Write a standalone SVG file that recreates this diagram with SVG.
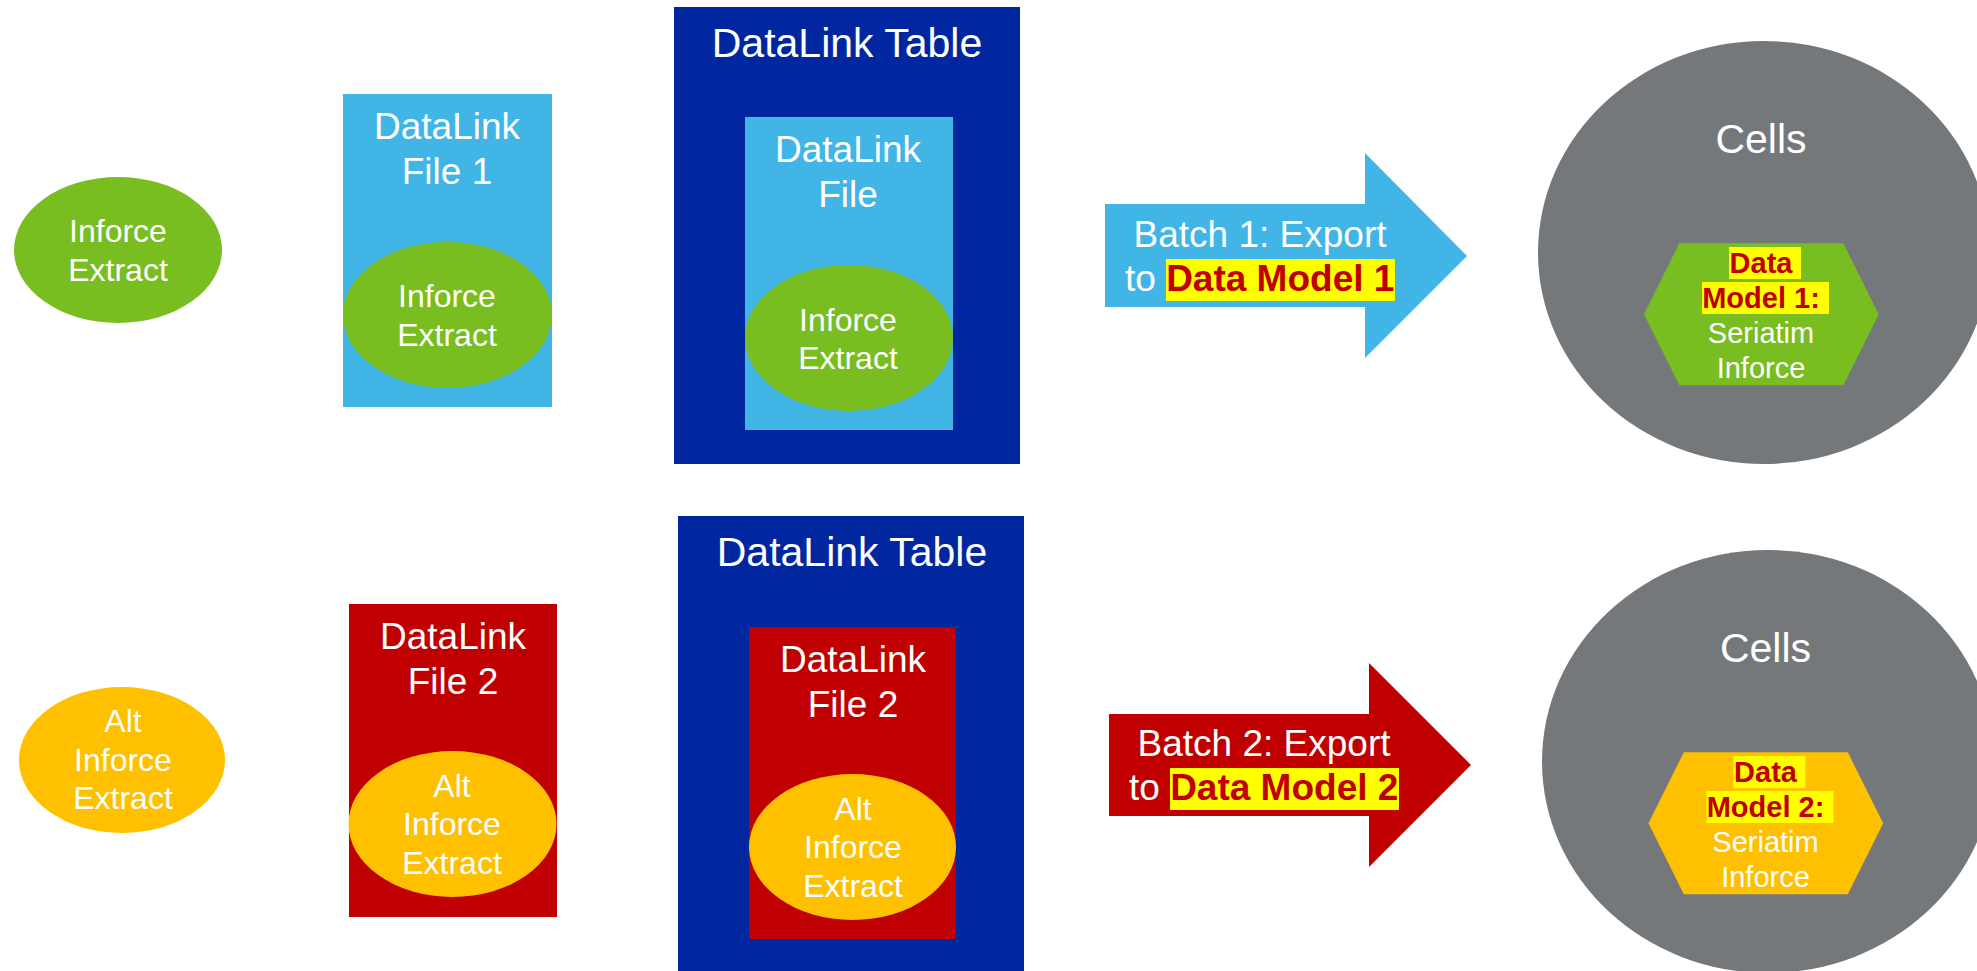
<svg xmlns="http://www.w3.org/2000/svg" width="1977" height="971" viewBox="0 0 1977 971">
  <style>
    text { font-family: "Liberation Sans", Arial, sans-serif; fill: #ffffff; text-anchor: middle; }
    .lb { fill: #41B6E6; }
    .db { fill: #0027A0; }
    .rd { fill: #C00000; }
    .gn { fill: #78BE20; }
    .yl { fill: #FFC000; }
    .gy { fill: #75787B; }
    .hl { fill: #FFFF00; }
    .t32 { font-size: 32px; }
    .t37 { font-size: 37px; }
    .t41 { font-size: 41px; }
    .t29 { font-size: 29px; }
    .bold { font-weight: bold; fill: #C00000; }
  </style>
  <rect width="1977" height="971" fill="#ffffff"/>

  <!-- Row 1 -->
  <g id="inforce-extract">
    <ellipse class="gn" cx="118" cy="250" rx="104" ry="73"/>
    <text class="t32" x="118" y="242">Inforce</text>
    <text class="t32" x="118" y="281">Extract</text>
  </g>

  <g id="datalink-file-1">
    <rect class="lb" x="343" y="94" width="209" height="313"/>
    <text class="t37" x="447" y="139">DataLink</text>
    <text class="t37" x="447" y="184">File 1</text>
    <ellipse class="gn" cx="447.5" cy="315" rx="104.5" ry="73"/>
    <text class="t32" x="447" y="307">Inforce</text>
    <text class="t32" x="447" y="346">Extract</text>
  </g>

  <g id="datalink-table-1">
    <rect class="db" x="674" y="7" width="346" height="457"/>
    <text class="t41" x="847" y="57">DataLink Table</text>
    <rect class="lb" x="745" y="117" width="208" height="313"/>
    <text class="t37" x="848" y="162">DataLink</text>
    <text class="t37" x="848" y="207">File</text>
    <ellipse class="gn" cx="849" cy="338" rx="104" ry="73"/>
    <text class="t32" x="848" y="331">Inforce</text>
    <text class="t32" x="848" y="369">Extract</text>
  </g>

  <g id="cells-1">
    <ellipse class="gy" cx="1764" cy="252.5" rx="226" ry="211.5"/>
    <text class="t41" x="1761" y="153">Cells</text>
    <polygon class="gn" points="1644,314.3 1679.3,243.3 1843.3,243.3 1878.7,314.3 1843.3,385.3 1679.3,385.3"/>
    <rect class="hl" x="1729" y="247" width="72" height="32"/>
    <rect class="hl" x="1702" y="282" width="127" height="32"/>
    <text class="t29 bold" x="1761" y="273">Data</text>
    <text class="t29 bold" x="1761" y="308">Model 1:</text>
    <text class="t29" x="1761" y="343">Seriatim</text>
    <text class="t29" x="1761" y="378">Inforce</text>
  </g>

  <!-- Row 2 -->
  <g id="alt-inforce-extract">
    <ellipse class="yl" cx="122" cy="760" rx="103" ry="73"/>
    <text class="t32" x="123" y="732">Alt</text>
    <text class="t32" x="123" y="771">Inforce</text>
    <text class="t32" x="123" y="809">Extract</text>
  </g>

  <g id="datalink-file-2">
    <rect class="rd" x="349" y="604" width="208" height="313"/>
    <text class="t37" x="453" y="649">DataLink</text>
    <text class="t37" x="453" y="694">File 2</text>
    <ellipse class="yl" cx="452.5" cy="824" rx="104" ry="73"/>
    <text class="t32" x="452" y="797">Alt</text>
    <text class="t32" x="452" y="835">Inforce</text>
    <text class="t32" x="452" y="874">Extract</text>
  </g>

  <g id="datalink-table-2">
    <rect class="db" x="678" y="516" width="346" height="460"/>
    <text class="t41" x="852" y="566">DataLink Table</text>
    <rect class="rd" x="749" y="627" width="207" height="312"/>
    <text class="t37" x="853" y="672">DataLink</text>
    <text class="t37" x="853" y="717">File 2</text>
    <ellipse class="yl" cx="852.5" cy="847" rx="103.5" ry="73"/>
    <text class="t32" x="853" y="820">Alt</text>
    <text class="t32" x="853" y="858">Inforce</text>
    <text class="t32" x="853" y="897">Extract</text>
  </g>

  <g id="cells-2">
    <ellipse class="gy" cx="1768" cy="761.5" rx="226" ry="211.5"/>
    <text class="t41" x="1765.5" y="662">Cells</text>
    <polygon class="yl" points="1648.5,823.3 1683.8,752.3 1847.8,752.3 1883.2,823.3 1847.8,894.3 1683.8,894.3"/>
    <rect class="hl" x="1733.5" y="756" width="72" height="32"/>
    <rect class="hl" x="1706.5" y="791" width="127" height="32"/>
    <text class="t29 bold" x="1765.5" y="782">Data</text>
    <text class="t29 bold" x="1765.5" y="817">Model 2:</text>
    <text class="t29" x="1765.5" y="852">Seriatim</text>
    <text class="t29" x="1765.5" y="887">Inforce</text>
  </g>

  <!-- Export arrows -->
  <g id="connectors">
    <g id="batch-1">
      <polygon class="lb" points="1105,204 1365,204 1365,153 1467,256 1365,358 1365,307 1105,307"/>
      <rect class="hl" x="1166" y="259" width="229" height="42"/>
      <text class="t37" x="1260" y="247">Batch 1: Export</text>
      <text class="t37" x="1125" y="291" style="text-anchor:start">to <tspan class="bold">Data Model 1</tspan></text>
    </g>
    <g id="batch-2">
      <polygon class="rd" points="1109,714 1369,714 1369,663 1471,765 1369,867 1369,816 1109,816"/>
      <rect class="hl" x="1170" y="768" width="229" height="42"/>
      <text class="t37" x="1264" y="756">Batch 2: Export</text>
      <text class="t37" x="1129" y="800" style="text-anchor:start">to <tspan class="bold">Data Model 2</tspan></text>
    </g>
  </g>
</svg>
